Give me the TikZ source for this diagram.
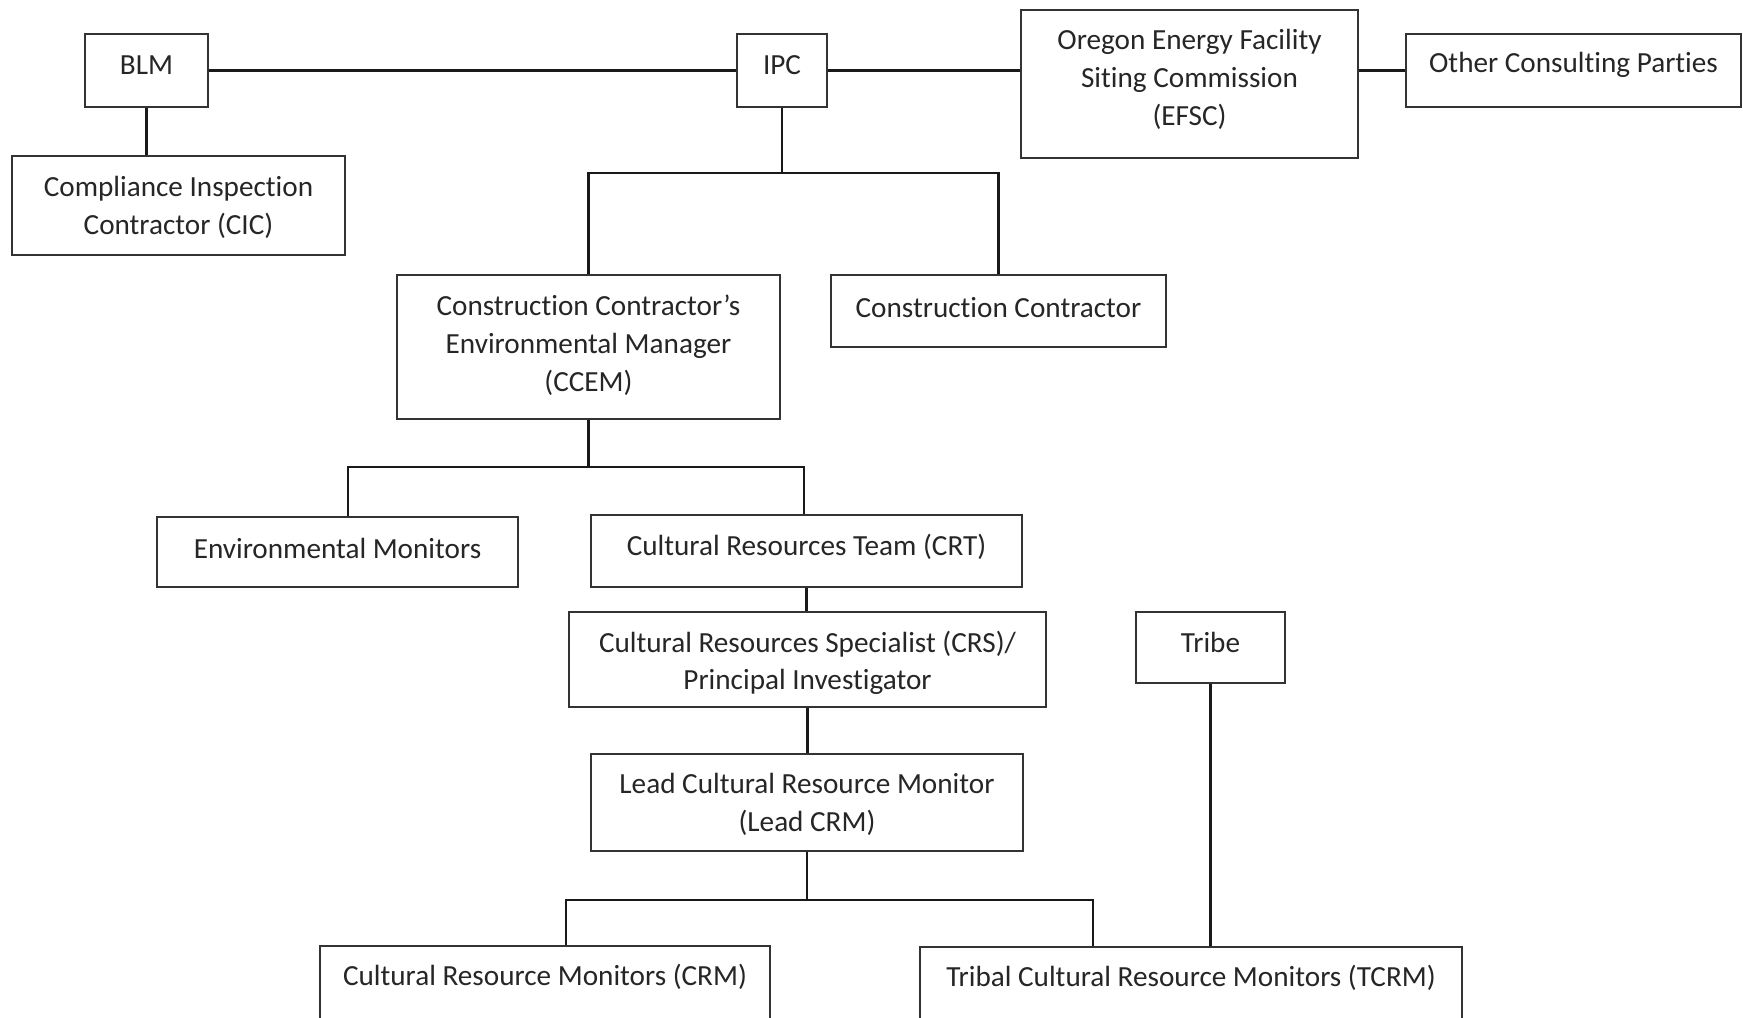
\documentclass[tikz,border=0pt]{standalone}
\usepackage{fontspec}
\setmainfont[Ligatures=NoCommon]{Carlito}
\begin{document}
\begin{tikzpicture}[x=0.5pt,y=-0.5pt,
  boxnode/.style={draw=black!80, line width=0.9pt, inner sep=0pt},
  txt/.style={align=center, inner sep=0pt, text=black!85, yshift=-0.75pt,
    font=\fontsize{14.6pt}{18.9pt}\selectfont},
  conn/.style={draw=black!90, line width=1.15pt}]
\clip (0,0) rectangle (1743,1017);
\fill[white] (0,0) rectangle (1743,1017);
\newcommand{\mkbox}[5]{%
  \node[boxnode, minimum width={(#4-#2)*0.5pt}, minimum height={(#5-#3)*0.5pt}]
    (#1) at ({(#2+#4)/2},{(#3+#5)/2}) {};}
% boxes
\mkbox{blm}{85}{34}{208}{107}
\mkbox{ipc}{737}{34}{827}{107}
\mkbox{efsc}{1021}{10}{1358}{158}
\mkbox{other}{1406}{34}{1741}{107}
\mkbox{cic}{12}{156}{345}{255}
\mkbox{ccem}{397}{275}{780}{419}
\mkbox{cc}{831}{275}{1166}{347}
\mkbox{env}{157}{517}{518}{587}
\mkbox{crt}{591}{515}{1022}{587}
\mkbox{crs}{569}{612}{1046}{707}
\mkbox{tribe}{1136}{612}{1285}{683}
\mkbox{lead}{591}{754}{1023}{851}
\mkbox{crm}{320}{946}{770}{1040}
\mkbox{tcrm}{920}{947}{1462}{1040}
% texts
\node[txt] (blm-t) at (146.5,63.4) {BLM};
\node[txt] (ipc-t) at (782,63.4) {IPC};
\node[txt] (efsc-t) at (1189.5,77.8) {Oregon Energy Facility\\Siting Commission\\(EFSC)};
\node[txt] (other-t) at (1573.5,63.4) {Other Consulting Parties};
\node[txt] (cic-t) at (178.5,205.6) {Compliance Inspection\\Contractor (CIC)};
\node[txt] (ccem-t) at (588.5,343.5) {Construction Contractor’s\\Environmental Manager\\(CCEM)};
\node[txt] (cc-t) at (998.5,305.7) {Construction Contractor};
\node[txt] (env-t) at (337.5,547) {Environmental Monitors};
\node[txt] (crt-t) at (806.5,545.8) {Cultural Resources Team (CRT)};
\node[txt] (crs-t) at (807.5,661.4) {Cultural Resources Specialist (CRS)/\\Principal Investigator};
\node[txt] (tribe-t) at (1210.5,641.4) {Tribe};
\node[txt] (lead-t) at (807,802.6) {Lead Cultural Resource Monitor\\(Lead CRM)};
\node[txt] (crm-t) at (545,975) {Cultural Resource Monitors (CRM)};
\node[txt] (tcrm-t) at (1191,976) {Tribal Cultural Resource Monitors (TCRM)};
% junctions
\coordinate (j1) at (782,173);
\coordinate (j2l) at (348,467);
\coordinate (j2r) at (804,467);
\coordinate (j3l) at (566,900);
\coordinate (j3r) at (1093,900);
% connectors
\draw[conn] (blm.east) -- (ipc.west);
\draw[conn] (ipc.east) -- (ipc.east -| efsc.west);
\draw[conn] (other.west -| efsc.east) -- (other.west);
\draw[conn] (blm.south) -- (blm.south |- cic.north);
\draw[conn] (ipc.south) -- (j1);
\draw[conn] (ccem.north) |- (j1) -| (cc.north);
\draw[conn] (ccem.south) -- (ccem.south |- j2l);
\draw[conn] (j2l |- env.north) -- (j2l) -- (j2r) -- (j2r |- crt.north);
\draw[conn] (crt.south) -- (crt.south |- crs.north);
\draw[conn] (crs.south) -- (crs.south |- lead.north);
\draw[conn] (lead.south) -- (lead.south |- j3l);
\draw[conn] (j3l |- crm.north) -- (j3l) -- (j3r) -- (j3r |- tcrm.north);
\draw[conn] (tribe.south) -- (tribe.south |- tcrm.north);
\end{tikzpicture}
\end{document}
